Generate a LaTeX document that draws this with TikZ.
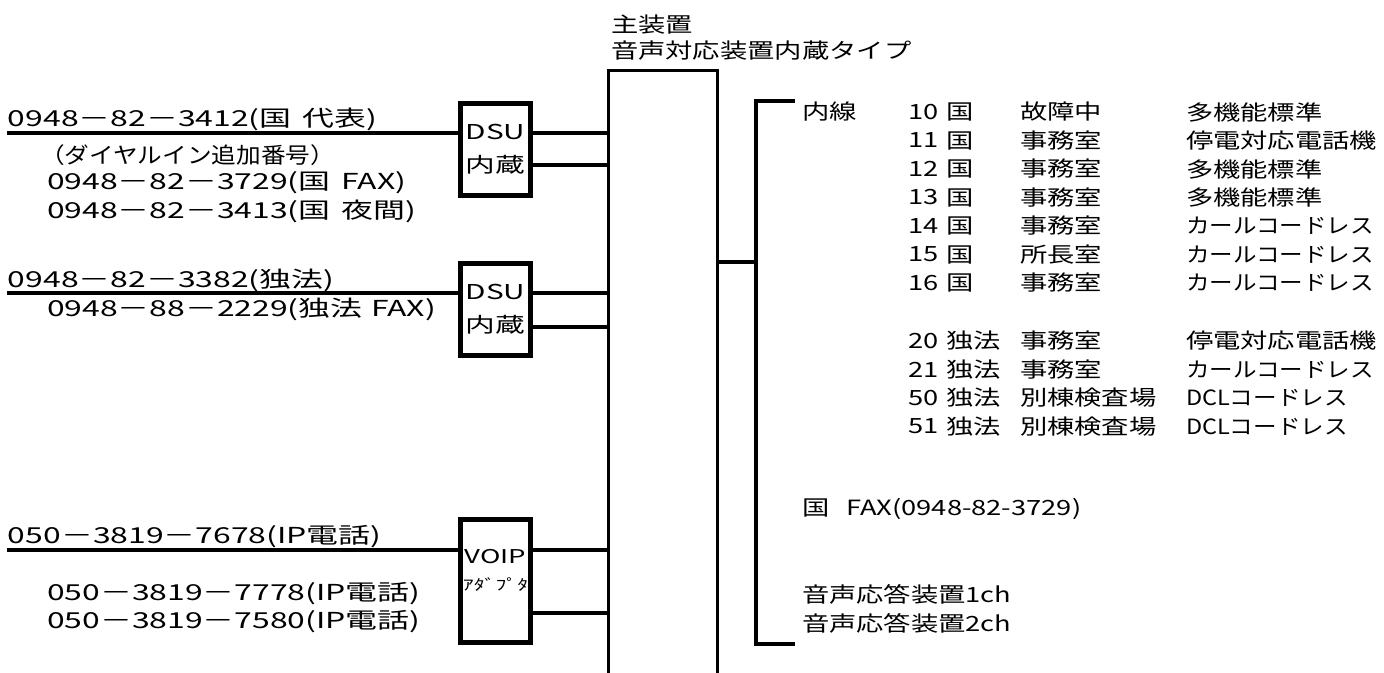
\documentclass[tikz,border=0pt]{standalone}
\usepackage{fontspec}
\setmainfont{Noto Sans CJK JP}
\newfontfamily\leftfont[FakeStretch=1.45]{Noto Sans CJK JP}
\newfontfamily\rightfont[FakeStretch=1.3]{Noto Sans CJK JP}
\newfontfamily\kanafont[FakeStretch=1.12]{Noto Sans CJK JP}

\begin{document}
\begin{tikzpicture}[x=1pt, y=-1pt,
    every node/.style={inner sep=0pt, outer sep=0pt},
    wire/.style={line width=4.5pt},
    adbox/.style={draw, line width=5pt, minimum width=70pt, minimum height=92pt,
        align=center, font=\leftfont\fontsize{20.5}{33}\selectfont},
    ltext/.style={anchor=west, font=\leftfont\fontsize{22}{24}\selectfont},
    rtext/.style={anchor=west, font=\rightfont\fontsize{21}{24}\selectfont}]
    \useasboundingbox (0,0) rectangle (1384,672);
    % main unit, open at the bottom
    \node[draw, line width=3.2pt, minimum width=109pt, minimum height=700pt, anchor=north] (main) at (663,70.5) {};
    \node[rtext] (title1) at (611,25) {主装置};
    \node[rtext] (title2) at (611,51) {音声対応装置内蔵タイプ};
    % adapters
    \node[adbox] (dsu1) at (495.5,149.5) {DSU\\内蔵};
    \node[adbox] (dsu2) at (495.5,309.5) {DSU\\内蔵};
    \node[adbox, minimum height=123pt] (voip) at (495.5,581) {};
    \node[font=\leftfont\fontsize{19}{27}\selectfont, align=center] (voiptxt) at (495.5,570)
        {VOIP\\{\fontsize{15}{15}\selectfont ｱﾀﾞﾌﾟﾀ}};
    % outside lines
    \coordinate (in1) at (7,133);
    \coordinate (in2) at (7,293);
    \coordinate (in3) at (7,550);
    \draw[wire] (in1) -- (dsu1.west |- in1);
    \draw[wire] (in2) -- (dsu2.west |- in2);
    \draw[wire] (in3) -- (voip.west |- in3);
    \node[ltext] (n1) at (8,119) {0948－82－3412(国\hspace{0.5em}代表)};
    \node[ltext] (n2) at (40,155) {\kanafont（ダイヤルイン追加番号）};
    \node[ltext] (n3) at (47,183) {0948－82－3729(国\hspace{0.5em}FAX)};
    \node[ltext] (n4) at (47,211) {0948－82－3413(国\hspace{0.5em}夜間)};
    \node[ltext] (n5) at (8,280) {0948－82－3382(独法)};
    \node[ltext] (n6) at (47,309) {0948－88－2229(独法\hspace{0.4em}FAX)};
    \node[ltext] (n7) at (8,537) {050－3819－7678(IP電話)};
    \node[ltext] (n8) at (47,594) {050－3819－7778(IP電話)};
    \node[ltext] (n9) at (47,622) {050－3819－7580(IP電話)};
    % adapters to main unit
    \foreach \a/\y in {dsu1/133, dsu1/165, dsu2/293, dsu2/327, voip/550, voip/613}
        \draw[wire] (\a.east |- 0,\y) -- (main.west |- 0,\y);
    % extension bracket
    \coordinate (brtop) at (756,101);
    \coordinate (brbot) at (756,644);
    \draw[wire] (main.east |- 0,262) -- (brtop |- 0,262);
    \draw[wire] ([xshift=39pt]brtop) -- (brtop) -- (brbot) -- ([xshift=39pt]brbot);
    \node[rtext] (naisen) at (802,112) {内線};
    \foreach \y/\n/\g/\r/\k in {112/10/国/故障中/多機能標準, 140.5/11/国/事務室/停電対応電話機,
            169/12/国/事務室/多機能標準, 197.5/13/国/事務室/多機能標準,
            226/14/国/事務室/\kanafont カールコードレス, 254.5/15/国/所長室/\kanafont カールコードレス,
            283/16/国/事務室/\kanafont カールコードレス, 341/20/独法/事務室/停電対応電話機,
            369.5/21/独法/事務室/\kanafont カールコードレス, 398/50/独法/別棟検査場/\kanafont DCLコードレス,
            426.5/51/独法/別棟検査場/\kanafont DCLコードレス} {
        \node[rtext] (no\n) at (908,\y) {\n};
        \node[rtext] (grp\n) at (946,\y) {\g};
        \node[rtext] (room\n) at (1020,\y) {\r};
        \node[rtext] (kind\n) at (1186,\y) {\k};
    }
    \node[rtext] (fax) at (802,509) {国\hspace{0.8em}FAX(0948-82-3729)};
    \node[rtext] (ans1) at (802,594) {音声応答装置1ch};
    \node[rtext] (ans2) at (802,623) {音声応答装置2ch};
\end{tikzpicture}
\end{document}
